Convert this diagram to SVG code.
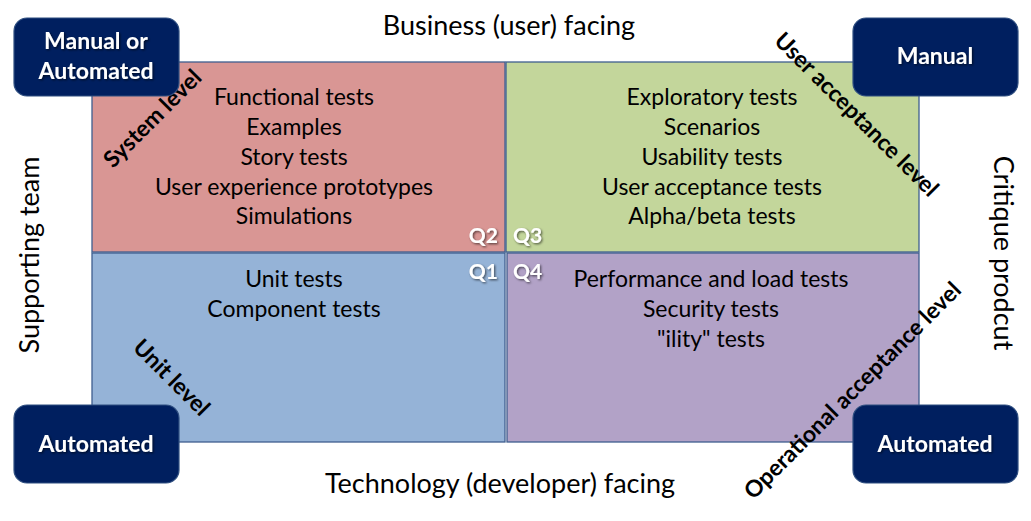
<svg xmlns="http://www.w3.org/2000/svg" width="1031" height="521" viewBox="0 0 1031 521">
<defs>
<style>
.q{stroke:#3F5F8F;stroke-width:1.3}
.t{font-family:Lato,"Liberation Sans",sans-serif;font-size:23px;fill:#000;text-anchor:middle}
.h{font-family:Lato,"Liberation Sans",sans-serif;font-size:27px;fill:#000;text-anchor:middle}
.d{font-family:Lato,"Liberation Sans",sans-serif;font-size:23px;font-weight:bold;fill:#000;text-anchor:middle}
.b{fill:#001F5F;stroke:#2F4F80;stroke-width:1.2}
.bt{font-family:Lato,"Liberation Sans",sans-serif;font-size:23px;font-weight:bold;fill:#fff;text-anchor:middle;filter:url(#sh)}
.ql{font-family:Lato,"Liberation Sans",sans-serif;font-size:21px;font-weight:bold;fill:#fff;filter:url(#sh)}
</style>
<filter id="sh" x="-20%" y="-20%" width="140%" height="160%">
<feDropShadow dx="1.2" dy="1.2" stdDeviation="0.8" flood-color="#000" flood-opacity="0.6"/>
</filter>
</defs>
<g id="q2"><rect class="q" x="92" y="62" width="413" height="190" fill="#D99694"/>
<text class="t" x="294" y="105">Functional tests</text>
<text class="t" x="294" y="135">Examples</text>
<text class="t" x="294" y="165">Story tests</text>
<text class="t" x="294" y="195">User experience prototypes</text>
<text class="t" x="294" y="224">Simulations</text>
<text class="ql" x="498" y="243" text-anchor="end">Q2</text>
</g>
<g id="q3"><rect class="q" x="506" y="62" width="413" height="190" fill="#C3D69B"/>
<text class="t" x="712" y="105">Exploratory tests</text>
<text class="t" x="712" y="135">Scenarios</text>
<text class="t" x="712" y="165">Usability tests</text>
<text class="t" x="712" y="195">User acceptance tests</text>
<text class="t" x="712" y="224">Alpha/beta tests</text>
<text class="ql" x="513" y="243">Q3</text>
</g>
<g id="q1"><rect class="q" x="92" y="253" width="413" height="189" fill="#95B3D7"/>
<text class="t" x="294" y="287">Unit tests</text>
<text class="t" x="294" y="317">Component tests</text>
<text class="ql" x="498" y="279" text-anchor="end">Q1</text>
</g>
<g id="q4"><rect class="q" x="507" y="253" width="412" height="189" fill="#B2A2C7"/>
<text class="t" x="711" y="287">Performance and load tests</text>
<text class="t" x="711" y="317">Security tests</text>
<text class="t" x="711" y="347">"ility" tests</text>
<text class="ql" x="513" y="279">Q4</text>
</g>
<g id="axes">
<text class="h" x="509" y="35">Business (user) facing</text>
<text class="h" x="500" y="493">Technology (developer) facing</text>
<text class="h" transform="translate(39,255) rotate(-90)">Supporting team</text>
<text class="h" transform="translate(994,253) rotate(90)">Critique prodcut</text>
</g>
<g id="levels">
<text class="d" transform="translate(158,124) rotate(-45)">System level</text>
<text class="d" transform="translate(851,120) rotate(45)">User acceptance level</text>
<text class="d" transform="translate(166,383) rotate(45)">Unit level</text>
<text class="d" transform="translate(858,396) rotate(-45)">Operational acceptance level</text>
</g>
<g id="box-tl"><rect class="b" x="14" y="18" width="165" height="78" rx="13"/>
<text class="bt" x="96" y="49">Manual or</text>
<text class="bt" x="96" y="79">Automated</text></g>
<g id="box-tr"><rect class="b" x="853" y="18" width="165" height="78" rx="13"/>
<text class="bt" x="935" y="64">Manual</text></g>
<g id="box-bl"><rect class="b" x="14" y="405" width="165" height="78" rx="13"/>
<text class="bt" x="96" y="452">Automated</text></g>
<g id="box-br"><rect class="b" x="853" y="405" width="165" height="78" rx="13"/>
<text class="bt" x="935" y="452">Automated</text></g>
</svg>
